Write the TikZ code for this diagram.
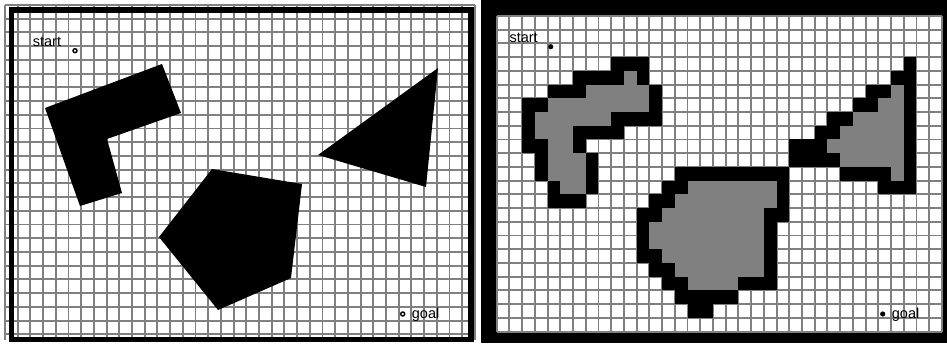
\documentclass[tikz,border=0pt]{standalone}
\usepackage{fontspec}
\setmainfont{Liberation Sans}
\definecolor{gridgray}{RGB}{128,128,128}
\definecolor{cellgray}{RGB}{128,128,128}
\begin{document}
\begin{tikzpicture}[x=1pt,y=-1pt,
  gridline/.style={line width=1.9pt, draw=gridgray},
  lbl/.style={font=\fontsize{14.5}{16}\selectfont, anchor=base west, inner sep=0pt},
  opendot/.style={draw=black, line width=1.4pt, fill=white},
  filldot/.style={fill=black},
  obst/.style={fill=black},
  frame/.style={draw=black, line width=5.5pt}
]
\useasboundingbox (0,0) rectangle (947,343);
\fill[white] (0,0) rectangle (947,343);
% ---------- left panel ----------
\foreach \i in {0,...,37} \draw[gridline] ({5+\i*12.7},5) -- ({5+\i*12.7},340);
\foreach \j in {0,...,24} \draw[gridline] (5,{5+\j*13.72}) -- (475,{5+\j*13.72});
\draw[frame] (11.6,9.8) rectangle (470.8,339.3);
\fill[obst] (45,108) -- (162,64) -- (181,113) -- (107,139) -- (122,193) -- (80,206) -- cycle;
\fill[obst] (212,169) -- (302,184) -- (291,278) -- (218,310) -- (159,237) -- cycle;
\fill[obst] (318,155) -- (438,68) -- (426,187) -- cycle;
\node[lbl] (startL) at (32.7,46.7) {start};
\node[lbl] (goalL) at (411.7,318.3) {goal};
\draw[opendot] (75,50.7) circle (2pt);
\draw[opendot] (402.7,314) circle (2pt);
% ---------- right panel ----------
\fill[black] (480.5,0) rectangle (947,343);
\fill[white] (496.7,16) rectangle (941.9,331.6);
\foreach \r/\a/\b in {4/10/10, 5/7/11, 6/4/11, 7/3/8, 8/3/5, 9/4/5, 10/4/6, 11/4/6, 12/5/6,
  12/15/21, 13/14/21, 14/13/20, 15/12/20, 16/12/20, 17/13/20, 18/14/20, 19/15/18,
  5/31/31, 6/30/31, 7/28/31, 8/27/31, 9/26/31, 10/27/31, 11/31/31}
  \fill[cellgray] ({496.7+\a*12.72},{16+\r*13.72}) rectangle ({496.7+(\b+1)*12.72},{16+(\r+1)*13.72});
\foreach \c in {0,...,35} \draw[gridline] ({496.7+\c*12.72},16) -- ({496.7+\c*12.72},331.6);
\foreach \r in {0,...,23} \draw[gridline] (496.7,{16+\r*13.72}) -- (941.9,{16+\r*13.72});
\foreach \r/\a/\b in {3/9/11, 4/6/9, 4/11/11, 5/4/6, 5/12/12, 6/2/3, 6/12/12, 7/2/2, 7/9/12,
  8/2/2, 8/6/9, 9/2/3, 9/6/6, 10/3/3, 10/7/7, 11/3/3, 11/7/7, 12/4/4, 12/7/7, 13/4/6,
  11/14/22, 12/13/14, 12/22/22, 13/12/13, 13/22/22, 14/11/12, 14/21/22, 15/11/11, 15/21/21,
  16/11/11, 16/21/21, 17/11/12, 17/21/21, 18/12/13, 18/21/21, 19/13/14, 19/19/21, 20/14/18, 21/15/16,
  3/32/32, 4/31/32, 5/29/30, 5/32/32, 6/28/29, 6/32/32, 7/26/27, 7/32/32, 8/25/26, 8/32/32,
  9/23/25, 9/32/32, 10/23/26, 10/32/32, 11/27/30, 11/32/32, 12/30/32}
  \fill[black] ({496.7+\a*12.72},{16+\r*13.72}) rectangle ({496.7+(\b+1)*12.72},{16+(\r+1)*13.72});
\node[lbl] (startR) at (509.3,42.7) {start};
\node[lbl] (goalR) at (891.7,318.3) {goal};
\fill[filldot] (550.7,46.7) circle (2.6pt);
\fill[filldot] (882.7,314) circle (2.6pt);
\end{tikzpicture}
\end{document}
